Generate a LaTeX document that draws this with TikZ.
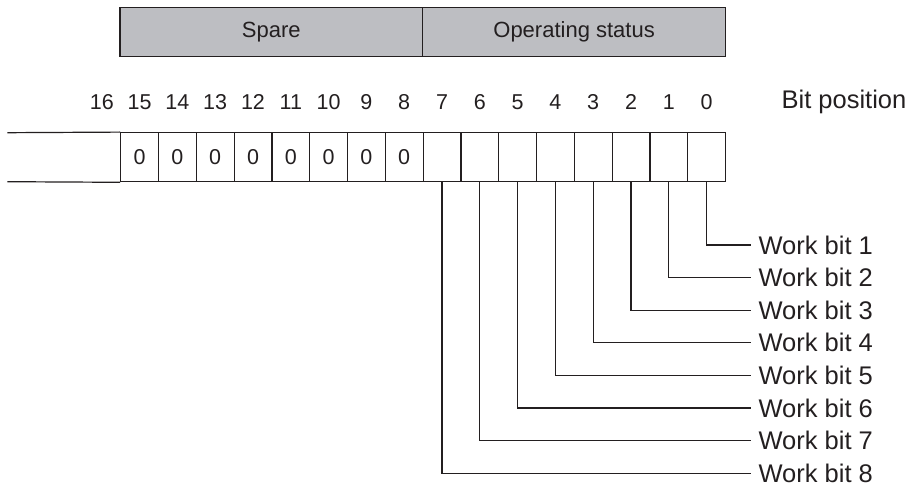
\documentclass[tikz,border=0pt]{standalone}
\usepackage{fontspec}
\setmainfont{Liberation Sans}
\definecolor{ink}{RGB}{35,31,32}
\definecolor{boxgray}{RGB}{189,190,194}
\begin{document}
\begin{tikzpicture}[x=1pt,y=1pt,line width=1.2pt,
  topbox/.style={draw=ink,fill=boxgray,minimum height=49.4pt,inner sep=0pt,text=ink,font=\fontsize{22}{24}\selectfont},
  cell/.style={draw=ink,minimum width=37.8pt,minimum height=49pt,inner sep=0pt,text=ink,font=\fontsize{21.5}{23}\selectfont},
  bitnum/.style={inner sep=0pt,text=ink,font=\fontsize{21.5}{23}\selectfont},
  worklabel/.style={anchor=west,inner xsep=7pt,inner ysep=0pt,text=ink,font=\fontsize{25.5}{28}\selectfont},
  wire/.style={draw=ink}]
\useasboundingbox (0,-486) rectangle (918,0);
% top boxes
\node[topbox,minimum width=302.5pt] (spare) at (271.25,-32) {Spare};
\node[topbox,minimum width=303.2pt] (opstat) at (574.1,-32) {Operating status};
% cells
\foreach \b in {0,...,15}{
  \pgfmathsetmacro{\cx}{139.6+(15-\b)*37.8}
  \ifnum\b>7
    \node[cell] (c\b) at (\cx,-157.2) {0};
  \else
    \node[cell] (c\b) at (\cx,-157.2) {};
  \fi
}
% bit numbers
\foreach \b in {0,...,16}{
  \pgfmathsetmacro{\cx}{139.6+(15-\b)*37.8}
  \node[bitnum] (n\b) at (\cx,-102) {\b};
}
\node[bitnum,anchor=west,font=\fontsize{25.5}{28}\selectfont] (bitpos) at (781,-102) {Bit position};
% left open part of the register
\coordinate (lt) at (7.3,-132.7);
\coordinate (lb) at (7.3,-181.7);
\draw[wire] (lt) -- (c15.north west);
\draw[wire] (lb) -- (c15.south west);
% work bit leaders
\foreach \b in {0,...,7}{
  \pgfmathtruncatemacro{\w}{\b+1}
  \pgfmathsetmacro{\wy}{-(245+32.6*\b)}
  \node[worklabel] (w\b) at (751,\wy) {Work bit \w};
  \draw[wire] (c\b.south) |- (w\b.west);
}
\end{tikzpicture}
\end{document}
